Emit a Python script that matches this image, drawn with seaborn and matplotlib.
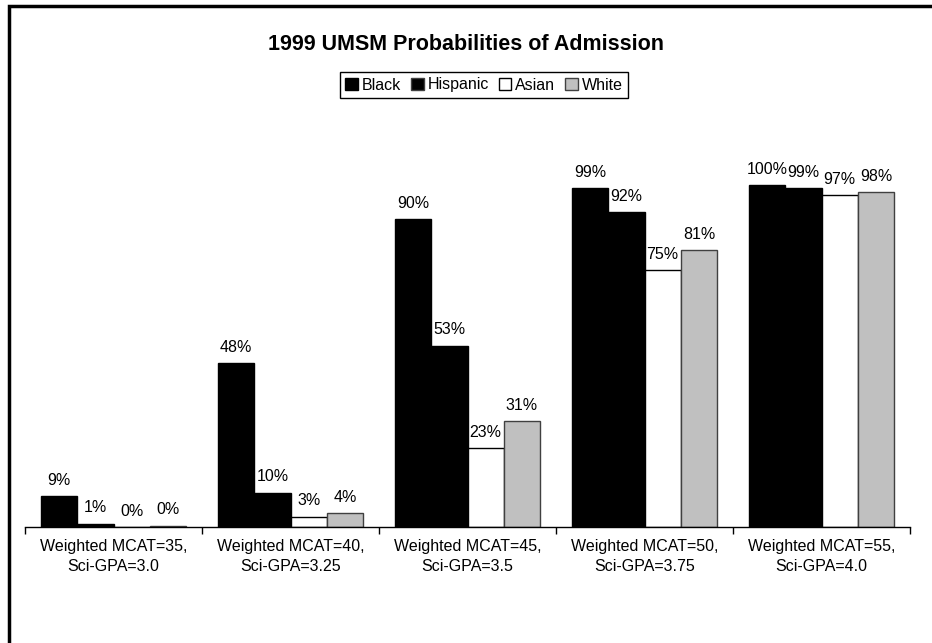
import matplotlib
matplotlib.use("Agg")
import matplotlib.pyplot as plt
from matplotlib.patches import Rectangle, Patch
from matplotlib.ticker import FixedLocator
import seaborn as sns
import pandas as pd

# data (percent admitted)
groups = [
    "Weighted MCAT=35,\nSci-GPA=3.0",
    "Weighted MCAT=40,\nSci-GPA=3.25",
    "Weighted MCAT=45,\nSci-GPA=3.5",
    "Weighted MCAT=50,\nSci-GPA=3.75",
    "Weighted MCAT=55,\nSci-GPA=4.0",
]
races = ["Black", "Hispanic", "Asian", "White"]
black = [9, 48, 90, 99, 100]
hispanic = [1, 10, 53, 92, 99]
asian = [0, 3, 23, 75, 97]
white = [0.4, 4, 31, 81, 98]

values = {"Black": black, "Hispanic": hispanic, "Asian": asian, "White": white}
faces = {"Black": "#000000", "Hispanic": "#000000", "Asian": "#FFFFFF", "White": "#C0C0C0"}
edges = {"Black": "#000000", "Hispanic": "#000000", "Asian": "#000000", "White": "#404040"}

rows = []
for r in races:
    for g, v in zip(groups, values[r]):
        rows.append({"group": g, "race": r, "value": v})
df = pd.DataFrame(rows)

sns.set_style("white")
plt.rcParams["font.family"] = ["Liberation Sans", "DejaVu Sans"]
plt.rcParams["text.color"] = "black"
plt.rcParams["xtick.color"] = "black"
plt.rcParams["axes.labelcolor"] = "black"
fs = 11.5

W, H = 932, 643
fig = plt.figure(figsize=(W / 100, H / 100), dpi=100)
ymax = 120
ax = fig.add_axes([25 / W, 1 - 527 / H, 885 / W, ymax * 3.42 / H])

sns.barplot(data=df, x="group", y="value", hue="race", order=groups, hue_order=races,
            palette=faces, saturation=1, width=0.82, legend=False, ax=ax)

for r, cont in zip(races, ax.containers):
    for bar in cont:
        bar.set_edgecolor(edges[r])
        bar.set_linewidth(1)
    ax.bar_label(cont, labels=[f"{v:.0f}%" for v in values[r]], padding=6, fontsize=fs, color="black")

ax.set_xlim(-0.5, len(groups) - 0.5)
ax.set_ylim(0, ymax)
ax.set_xlabel("")
ax.set_ylabel("")
ax.set_yticks([])
for s in ["left", "top", "right"]:
    ax.spines[s].set_visible(False)
ax.spines["bottom"].set_color("black")
ax.spines["bottom"].set_linewidth(1)
ax.xaxis.set_minor_locator(FixedLocator([i - 0.5 for i in range(len(groups) + 1)]))
ax.tick_params(axis="x", which="major", length=0, pad=9, labelsize=fs, labelcolor="black")
ax.tick_params(axis="x", which="minor", length=5, width=1, color="black", direction="out", bottom=True)
for t in ax.get_xticklabels():
    t.set_linespacing(1.35)

fig.text(0.5, 1 - 45 / H, "1999 UMSM Probabilities of Admission", ha="center", va="center",
         fontsize=15.5, fontweight="bold", color="black")

handles = [Patch(facecolor=faces[r], edgecolor=edges[r] if r != "Hispanic" else "#404040") for r in races]
leg = fig.legend(handles, races, ncol=4, loc="center", bbox_to_anchor=(484 / W, 1 - 85 / H),
                 fontsize=fs, frameon=True, fancybox=False, edgecolor="black", framealpha=1,
                 handlelength=0.8, handleheight=0.8, handletextpad=0.25, columnspacing=0.6,
                 borderpad=0.35, labelcolor="black")
leg.get_frame().set_linewidth(1)

# outer chart border (cut off at right and bottom)
fig.patches.append(Rectangle((9 / W, -0.2), 2, 1 - 6 / H + 0.2, transform=fig.transFigure,
                             fill=False, edgecolor="black", linewidth=2.5, clip_on=False))

fig.savefig("out.png", dpi=100)
